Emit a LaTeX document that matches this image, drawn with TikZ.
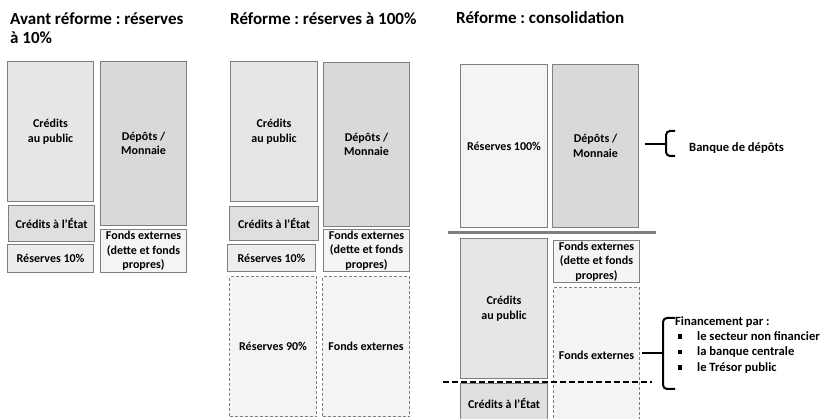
\documentclass[tikz,border=0pt]{standalone}
\usepackage{fontspec}
\setmainfont{Carlito}
\frenchspacing
\definecolor{bordure}{HTML}{7F7F7F}
\definecolor{fondA}{HTML}{E6E6E6}
\definecolor{fondB}{HTML}{D9D9D9}
\definecolor{fondC}{HTML}{EDEDED}
\definecolor{fondD}{HTML}{F4F4F4}
\definecolor{fondE}{HTML}{DFDFDF}
\begin{document}
\begin{tikzpicture}[x=1pt,y=-1pt]
    \tikzstyle{poste} = [draw=bordure, line width=1.1pt, anchor=north west, inner sep=0pt, align=center, font=\fontsize{12}{14.5}\selectfont\bfseries]
    \tikzstyle{ajout} = [poste, dash pattern=on 3pt off 2pt, fill=fondD]
    \tikzstyle{titre} = [anchor=base west, inner sep=0pt, font=\fontsize{17}{20}\selectfont\bfseries]
    \tikzstyle{legende} = [anchor=base west, inner sep=0pt, font=\fontsize{12.6}{15}\selectfont\bfseries]
    \tikzstyle{puce} = [fill, shape=rectangle, minimum size=4.5pt, inner sep=0pt]
    \tikzstyle{accolade} = [line width=2pt, rounded corners=4pt]

    \useasboundingbox (0,0) rectangle (825,419);

    \node [titre] at (10,25) (titreA) {Avant réforme : réserves};
    \node [titre] at (10,43.3) (titreA2) {à 10\%};
    \node [titre] at (230,25) (titreB) {Réforme : réserves à 100\%};
    \node [titre] at (456,24) (titreC) {Réforme : consolidation};

    \node [poste, fill=fondA, minimum width=86pt, minimum height=140pt] at (7,61) (creditsA) {Crédits\\au public};
    \node [poste, fill=fondB, minimum width=86pt, minimum height=164pt] at (100,61) (depotsA) {Dépôts /\\Monnaie};
    \node [poste, fill=fondE, minimum width=86pt, minimum height=36pt] at (8,205) (etatA) {Crédits à l’État};
    \node [poste, fill=fondC, minimum width=86pt, minimum height=28pt] at (7,244) (reservesA) {Réserves 10\%};
    \node [poste, fill=fondD, minimum width=86pt, minimum height=43pt] at (100,229) (fondsA) {Fonds externes\\(dette et fonds\\propres)};

    \node [poste, fill=fondA, minimum width=87pt, minimum height=140pt] at (230,61) (creditsB) {Crédits\\au public};
    \node [poste, fill=fondB, minimum width=86pt, minimum height=164pt] at (323,62) (depotsB) {Dépôts /\\Monnaie};
    \node [poste, fill=fondE, minimum width=89pt, minimum height=34pt] at (229,206) (etatB) {Crédits à l’État};
    \node [poste, fill=fondC, minimum width=88pt, minimum height=27pt] at (227,244) (reservesB) {Réserves 10\%};
    \node [poste, fill=fondD, minimum width=86pt, minimum height=42pt] at (323,229) (fondsB) {Fonds externes\\(dette et fonds\\propres)};
    \node [ajout, minimum width=87pt, minimum height=140pt] at (229,276) (reserves90) {Réserves 90\%};
    \node [ajout, minimum width=87pt, minimum height=140pt] at (322,276) (externesB) {Fonds externes};

    \node [poste, fill=fondD, minimum width=87pt, minimum height=163pt] at (460,64) (reserves100) {Réserves 100\%};
    \node [poste, fill=fondB, minimum width=86pt, minimum height=163pt] at (552,64) (depotsC) {Dépôts /\\Monnaie};
    \node [poste, fill=fondA, minimum width=87pt, minimum height=140pt] at (460,238) (creditsC) {Crédits\\au public};
    \node [poste, fill=fondD, minimum width=86pt, minimum height=42pt] at (553,240) (fondsC) {Fonds externes\\(dette et fonds\\propres)};
    \node [ajout, minimum width=86pt, minimum height=136pt] at (553,287) (externesC) {Fonds externes};
    \node [poste, fill=fondE, minimum width=87pt, minimum height=39pt] at (460,383) (etatC) {Crédits à l’État};

    \coordinate (sepG) at (448,232.7);
    \coordinate (sepD) at (656,232.7);
    \coordinate (coupeG) at (443,381.7);
    \coordinate (coupeD) at (652,381.7);
    \coordinate (tigeA) at (645,144);
    \coordinate (accA) at (666,144);
    \coordinate (tigeB) at (642,353.3);
    \coordinate (accB) at (663,353.3);

    \node [legende] at (689,151.7) (banque) {Banque de dépôts};
    \node [legende] at (675,325.5) (financement) {Financement par :};
    \node [puce] at (680,336.5) (p1) {};
    \node [puce] at (680,352) (p2) {};
    \node [puce] at (680,367.3) (p3) {};
    \node [legende] at (697,340.5) (secteur) {le secteur non financier};
    \node [legende] at (697,356) (centrale) {la banque centrale};
    \node [legende] at (697,371.3) (tresor) {le Trésor public};

    \begin{scope}
    \draw [bordure, line width=3pt] (sepG) -- (sepD);
    \draw [line width=2pt, dash pattern=on 6pt off 3pt] (coupeG) -- (coupeD);
    \draw [accolade] (tigeA) -- (accA);
    \draw [accolade] (675,131) -| (accA) |- (675,156);
    \draw [accolade] (tigeB) -- (accB);
    \draw [accolade] (675,318) -| (accB) |- (675,389);
    \end{scope}
\end{tikzpicture}
\end{document}
